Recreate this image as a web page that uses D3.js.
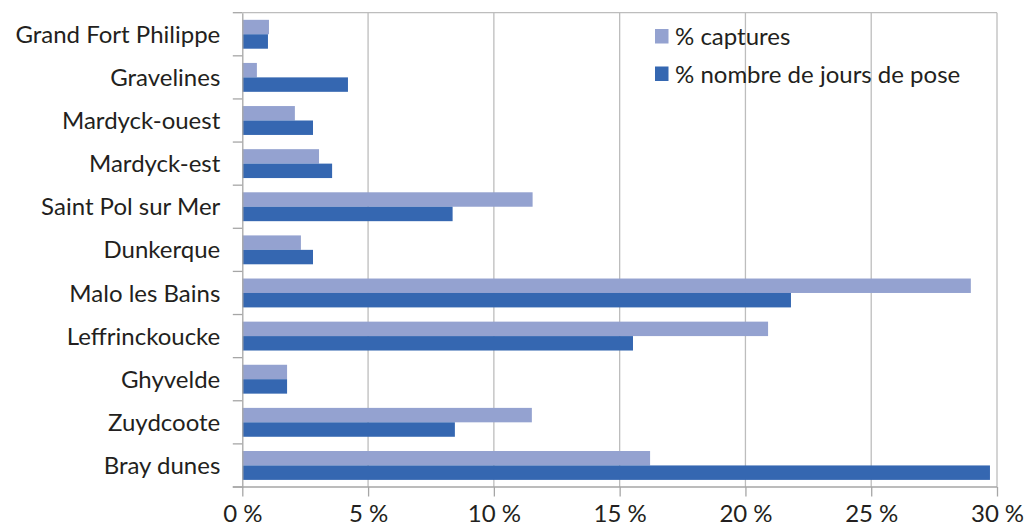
<!DOCTYPE html>
<html>
<head>
<meta charset="utf-8">
<script src="https://cdn.jsdelivr.net/npm/d3@7"></script>
<style>
  body { margin: 0; background: #fff; }
  text { font-family: Lato, "Open Sans", sans-serif; fill: #231f20; }
</style>
</head>
<body>
<div id="chart"></div>
<script>
// Data
const categories = ["Grand Fort Philippe", "Gravelines", "Mardyck-ouest", "Mardyck-est", "Saint Pol sur Mer",
    "Dunkerque", "Malo les Bains", "Leffrinckoucke", "Ghyvelde", "Zuydcoote", "Bray dunes"];
const seriesNames = ["% captures", "% nombre de jours de pose"];
const captures = [1.06, 0.58, 2.09, 3.05, 11.54, 2.33, 28.96, 20.9, 1.78, 11.51, 16.21];
const joursPose = [1.02, 4.2, 2.81, 3.57, 8.36, 2.81, 21.81, 15.53, 1.78, 8.45, 29.72];
const xTicks = [0, 5, 10, 15, 20, 25, 30];
const colors = ["#94a2d0", "#3567b1"];

// Chart dimensions
const width = 1033, height = 530;
const margin = { top: 12.7, right: 36, bottom: 43, left: 242.3 };

const svg = d3.select("#chart")
    .append("svg")
    .attr("width", width)
    .attr("height", height);

const x = d3.scaleLinear()
    .domain([0, 30])
    .range([margin.left, width - margin.right]);

const y = d3.scaleBand()
    .domain(categories)
    .range([margin.top, height - margin.bottom])
    .padding(0);

// inner scale for the two bars in each row
const y1 = d3.scaleBand()
    .domain(seriesNames)
    .range([y.bandwidth() * 0.165, y.bandwidth() * 0.835]);

// Vertical gridlines
svg.append("g")
    .selectAll("line")
    .data(xTicks.slice(1))
    .join("line")
    .attr("x1", d => x(d))
    .attr("x2", d => x(d))
    .attr("y1", margin.top)
    .attr("y2", height - margin.bottom)
    .attr("stroke", "#bdbdbd")
    .attr("stroke-width", 1.3);

// Top border
svg.append("line")
    .attr("x1", margin.left)
    .attr("x2", x(30))
    .attr("y1", margin.top)
    .attr("y2", margin.top)
    .attr("stroke", "#bdbdbd")
    .attr("stroke-width", 1.3);

// Bars
const rows = categories.map((c, i) => ({ cat: c, values: [captures[i], joursPose[i]] }));

const groups = svg.append("g")
    .selectAll("g")
    .data(rows)
    .join("g")
    .attr("transform", d => `translate(0,${y(d.cat)})`);

groups.selectAll("rect")
    .data(d => d.values.map((v, j) => ({ key: seriesNames[j], value: v, idx: j })))
    .join("rect")
    .attr("x", x(0))
    .attr("y", d => y1(d.key))
    .attr("width", d => x(d.value) - x(0))
    .attr("height", y1.bandwidth())
    .attr("fill", d => colors[d.idx]);

// Left axis (categories)
const yAxis = svg.append("g")
    .attr("transform", `translate(${margin.left},0)`)
    .call(d3.axisLeft(y).tickSize(0).tickPadding(22));

yAxis.select(".domain").attr("stroke", "#a6a6a6").attr("stroke-width", 1.3);
yAxis.selectAll("text").style("font-size", "24px").attr("dy", "0.36em").attr("fill", "#231f20");

// category separator ticks
svg.append("g")
    .selectAll("line")
    .data(categories.map(c => y(c)).concat([height - margin.bottom]))
    .join("line")
    .attr("x1", margin.left - 9.5)
    .attr("x2", margin.left)
    .attr("y1", d => d)
    .attr("y2", d => d)
    .attr("stroke", "#a6a6a6")
    .attr("stroke-width", 1.3);

// Bottom axis
const xAxis = svg.append("g")
    .attr("transform", `translate(0,${height - margin.bottom})`)
    .call(d3.axisBottom(x).tickValues(xTicks).tickSize(9.5).tickPadding(8)
        .tickFormat(d => d + "\u202f%"));

xAxis.select(".domain").attr("stroke", "#a6a6a6").attr("stroke-width", 1.3)
    .attr("d", `M${margin.left - 9.5},0H${x(30)}`);
xAxis.selectAll(".tick line").attr("stroke", "#a6a6a6").attr("stroke-width", 1.3);
xAxis.selectAll("text").style("font-size", "24px").attr("fill", "#231f20");

// Legend
const legend = svg.append("g")
    .attr("transform", "translate(655,29)");

const legendItems = legend.selectAll("g")
    .data(seriesNames)
    .join("g")
    .attr("transform", (d, i) => `translate(0,${i * 37.5})`);

legendItems.append("rect")
    .attr("width", 13.5)
    .attr("height", 14.5)
    .attr("fill", (d, i) => colors[i]);

legendItems.append("text")
    .attr("x", 20)
    .attr("y", 16)
    .style("font-size", "24px")
    .text(d => d);
</script>
</body>
</html>
